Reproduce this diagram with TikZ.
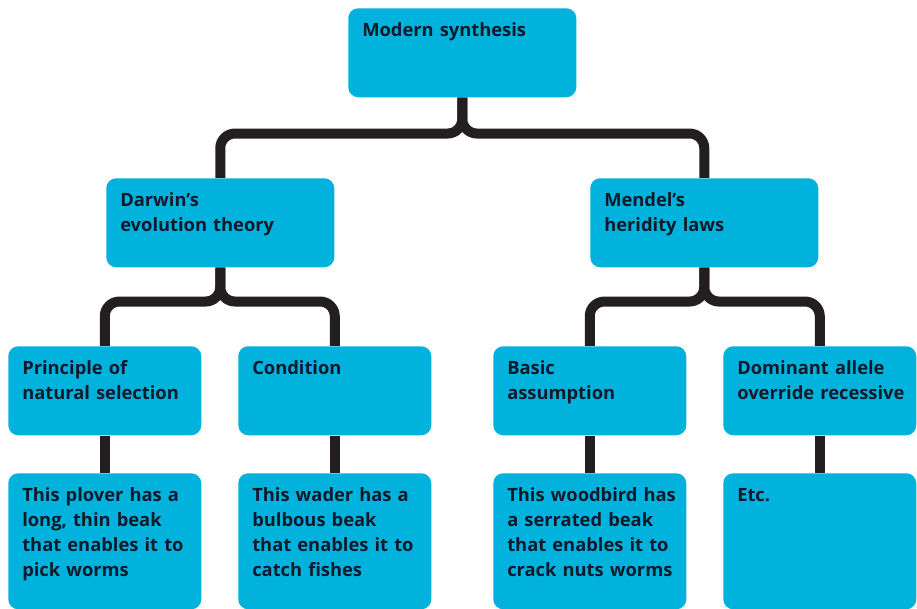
\documentclass[tikz,border=0pt]{standalone}
\usepackage{fontspec}
\setmainfont{Open Sans}
\definecolor{boxblue}{HTML}{00B2DC}
\definecolor{inkline}{HTML}{231F20}
\definecolor{inktext}{HTML}{0F1A2B}
\tikzset{
  box/.style={fill=boxblue, rounded corners=7.5pt, anchor=north west,
    align=left, inner xsep=0pt, inner ysep=0pt, text=inktext,
    font=\fontsize{13.75}{18.75}\selectfont\bfseries, text height=21pt,
    execute at begin node={\leftskip=10.5pt}},
  wide/.style={box, text width=171pt, text depth=45.75pt},
  narrow/.style={box, text width=144.75pt, text depth=45.75pt},
  tall/.style={box, text width=144.75pt, text depth=81pt},
  link/.style={draw=inkline, line width=7.5pt, rounded corners=11pt},
}

\begin{document}
\begin{tikzpicture}[x=0.75pt, y=-0.75pt]
  \useasboundingbox (0,0) rectangle (917,609);
  % boxes
  \node[wide] (synth) at (348,8) {Modern synthesis};
  \node[wide] (darwin) at (106,178) {Darwin’s\\evolution theory};
  \node[wide] (mendel) at (590,178) {Mendel’s\\heridity laws};
  \node[narrow] (principle) at (8,346) {Principle of\\natural selection};
  \node[narrow] (condition) at (238,346) {Condition};
  \node[narrow] (assumption) at (493,346) {Basic\\assumption};
  \node[narrow] (dominant) at (723,346) {Dominant allele\\override recessive};
  \node[tall] (plover) at (8,473) {This plover has a\\long, thin beak\\that enables it to\\pick worms};
  \node[tall] (wader) at (238,473) {This wader has a\\bulbous beak\\that enables it to\\catch fishes};
  \node[tall] (woodbird) at (493,473) {This woodbird has\\a serrated beak\\that enables it to\\crack nuts worms};
  \node[tall] (etc) at (723,473) {Etc.};
  % tree links
  \draw[link] (synth.south) -- ++(0,36) -| (darwin.north);
  \draw[link] (synth.south) -- ++(0,36) -| (mendel.north);
  \draw[link] (darwin.south) -- ++(0,34) -| (principle.north);
  \draw[link] (darwin.south) -- ++(0,34) -| (condition.north);
  \draw[link] (mendel.south) -- ++(0,34) -| (assumption.north);
  \draw[link] (mendel.south) -- ++(0,34) -| (dominant.north);
  \foreach \a/\b in {principle/plover, condition/wader, assumption/woodbird, dominant/etc}
    \draw[link] (\a.south) -- (\b.north);
\end{tikzpicture}
\end{document}
